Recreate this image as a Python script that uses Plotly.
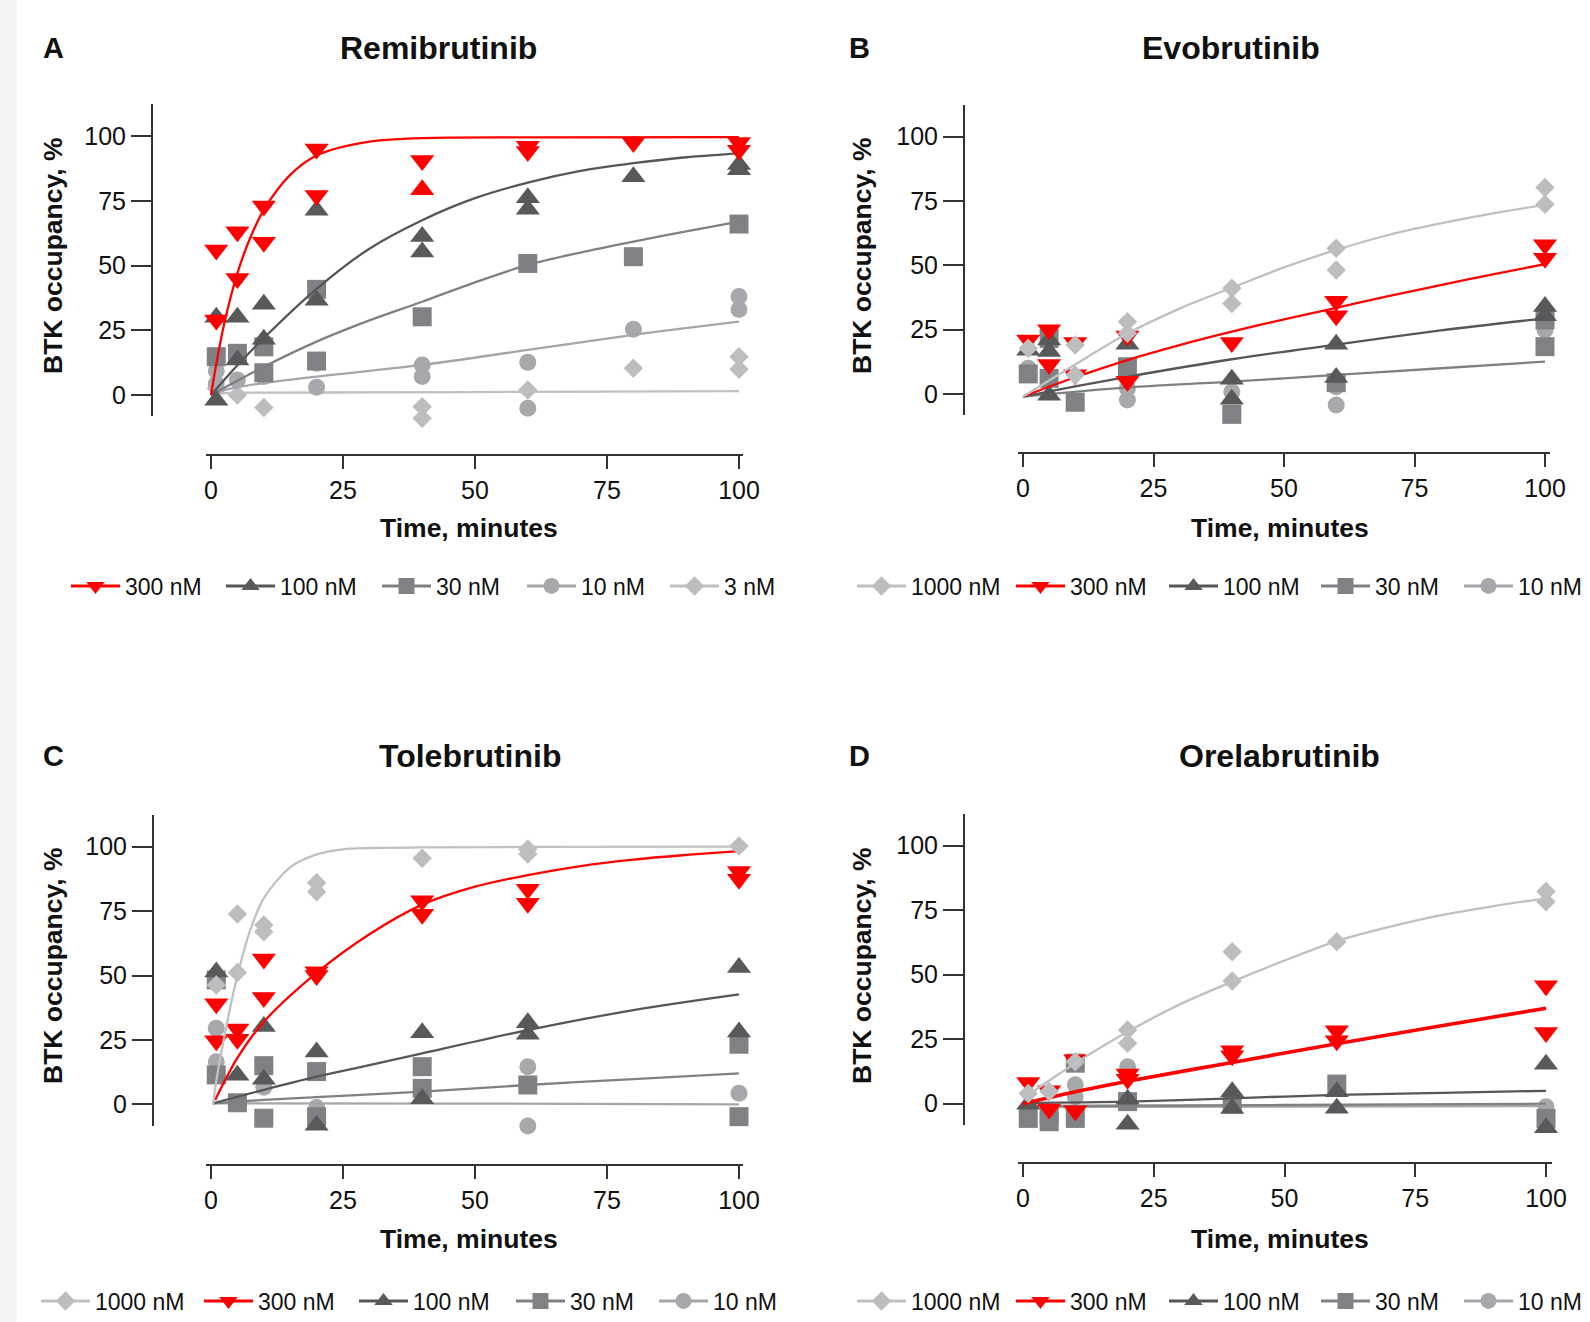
import plotly.graph_objects as go

W, H = 1590, 1322
TICKS = [0, 25, 50, 75, 100]

# ---------------- Panel A: Remibrutinib ----------------
REMI_300_T = [1, 1, 5, 5, 10, 10, 20, 20, 40, 40, 60, 60, 80, 100, 100]
REMI_300_Y = [56, 29, 63, 45, 73, 59, 95, 77, 90.5, 79.2, 96, 94, 97.5, 97.5, 94.5]
REMI_100_T = [1, 1, 5, 5, 10, 10, 20, 20, 40, 40, 60, 60, 80, 100, 100]
REMI_100_Y = [30, -2, 30, 13.5, 35, 21.5, 71.3, 36.6, 61.2, 55.2, 76.2, 71.7, 84.3, 89, 87]
REMI_30_T = [1, 5, 10, 10, 20, 20, 40, 60, 80, 100]
REMI_30_Y = [14.8, 16.1, 18.6, 8.6, 40.8, 13.1, 30.2, 50.8, 53.4, 66]
REMI_10_T = [1, 1, 5, 10, 20, 20, 40, 40, 60, 60, 80, 100, 100]
REMI_10_Y = [9.4, 4.2, 5.8, 7.1, 12.3, 3, 11.6, 7.1, 12.6, -5.1, 25.4, 38, 33]
REMI_3_T = [1, 5, 10, 40, 40, 60, 80, 100, 100]
REMI_3_Y = [2.5, 0, -4.8, -4.5, -9, 1.9, 10.3, 14.8, 9.9]

REMI_300_FIT_T = [0, 1, 2.5, 5, 7.5, 10, 15, 20, 30, 40, 60, 100]
REMI_300_FIT_Y = [0, 12, 27.5, 47, 61, 71.5, 85, 92.5, 97.8, 99.2, 99.5, 99.6]
REMI_100_FIT_T = [0, 5, 10, 20, 30, 40, 50, 60, 70, 80, 90, 100]
REMI_100_FIT_Y = [0, 11.5, 22, 41, 56.5, 67.5, 76, 82, 86.5, 89.5, 91.8, 93.3]
REMI_30_FIT_T = [0, 5, 10, 20, 30, 40, 50, 60, 70, 80, 90, 100]
REMI_30_FIT_Y = [0, 5.5, 10.9, 20.6, 28.8, 36, 43.5, 50.2, 55, 59.2, 63.2, 66.9]
REMI_10_FIT_T = [0, 2.5, 5, 10, 20, 40, 60, 80, 100]
REMI_10_FIT_Y = [0, 1.8, 3, 4.6, 7.1, 11.6, 17.4, 23.2, 28.3]
REMI_3_FIT_T = [0, 2, 5, 10, 30, 60, 100]
REMI_3_FIT_Y = [0, 0.6, 0.9, 0.9, 1.0, 1.2, 1.5]

# ---------------- Panel B: Evobrutinib ----------------
EVO_1000_T = [1, 10, 10, 20, 20, 40, 40, 60, 60, 100, 100]
EVO_1000_Y = [17.8, 19, 7.4, 28.1, 23.6, 41.1, 35.2, 56.6, 48.2, 80.3, 73.7]
EVO_300_T = [1, 5, 5, 10, 10, 20, 20, 40, 60, 60, 100, 100]
EVO_300_Y = [21, 25, 11.5, 20, 7.5, 22.5, 5, 20, 36, 30.4, 58, 52.8]
EVO_100_T = [1, 5, 5, 5, 20, 40, 40, 60, 60, 100, 100]
EVO_100_Y = [17, 21, 16.5, -0.5, 19.3, 5.7, -2, 19.3, 6.4, 34, 30.4]
EVO_30_T = [1, 5, 5, 10, 20, 40, 60, 100, 100]
EVO_30_Y = [7.8, 21.6, 6.1, -3.2, 10.6, -7.9, 4.4, 28.8, 18.4]
EVO_10_T = [1, 20, 20, 40, 60, 60, 100]
EVO_10_Y = [10, 2.2, -2.3, 0.9, 2.8, -4.3, 24.9]

EVO_1000_FIT_T = [0, 10, 20, 30, 40, 50, 60, 70, 80, 90, 100]
EVO_1000_FIT_Y = [-1, 11.5, 23.5, 33.2, 41.3, 49.2, 56, 61.8, 66.3, 70.2, 73.5]
EVO_300_FIT_T = [0, 10, 20, 30, 40, 50, 60, 70, 80, 90, 100]
EVO_300_FIT_Y = [-1, 6.5, 13.2, 19, 24.2, 29, 33.5, 38, 42.3, 46.5, 50.5]
EVO_100_FIT_T = [0, 10, 20, 40, 60, 80, 100]
EVO_100_FIT_Y = [-1, 3, 6.7, 13.5, 19.2, 24.7, 29.4]
EVO_30_FIT_T = [0, 20, 40, 60, 80, 100]
EVO_30_FIT_Y = [-1, 2.6, 4.8, 7.4, 10, 12.6]

# ---------------- Panel C: Tolebrutinib ----------------
TOLE_1000_T = [1, 5, 5, 10, 10, 20, 20, 40, 60, 60, 100]
TOLE_1000_Y = [46.3, 73.9, 51.2, 69.6, 67, 86, 82.5, 95.5, 99, 97.2, 100.3]
TOLE_300_T = [1, 1, 5, 5, 10, 10, 20, 20, 40, 40, 60, 60, 100, 100]
TOLE_300_Y = [39, 24.7, 29.2, 25.3, 56.4, 41.5, 51.5, 50, 79, 73.8, 83.5, 78, 90.4, 87.4]
TOLE_100_T = [1, 5, 10, 10, 20, 20, 40, 40, 60, 60, 100, 100]
TOLE_100_Y = [51.4, 11.3, 30.2, 9.7, 20.3, -8.1, 27.8, 2.2, 31.7, 27.2, 53.1, 28.1]
TOLE_30_T = [1, 1, 5, 10, 10, 20, 20, 40, 40, 60, 100, 100]
TOLE_30_Y = [48.3, 11.4, 0.6, 15, -5.4, 12.7, -4.8, 14.6, 6.2, 7.5, 23.3, -4.8]
TOLE_10_T = [1, 1, 10, 20, 60, 60, 100]
TOLE_10_Y = [29.5, 16.5, 6.6, -1.2, 14.6, -8.4, 4.3]

TOLE_1000_FIT_T = [0.4, 1, 2.5, 5, 7.5, 10, 15, 20, 25, 30, 40, 60, 100]
TOLE_1000_FIT_Y = [0, 9, 26, 50, 68, 80, 92, 97, 99, 99.5, 99.7, 99.9, 100]
TOLE_300_FIT_T = [0.8, 5, 10, 20, 30, 40, 50, 60, 70, 80, 90, 100]
TOLE_300_FIT_Y = [1.7, 18, 32, 51, 66, 77.5, 84.5, 89, 92.5, 95, 96.8, 98.3]
TOLE_100_FIT_T = [0.4, 10, 20, 30, 40, 60, 80, 100]
TOLE_100_FIT_Y = [0.4, 5.6, 10.7, 15.2, 19.8, 28.8, 36.6, 42.7]
TOLE_30_FIT_T = [0.4, 10, 20, 40, 60, 80, 100]
TOLE_30_FIT_Y = [0.4, 1.7, 2.8, 4.9, 7.5, 9.8, 12]
TOLE_10_FIT_T = [0.4, 50, 100]
TOLE_10_FIT_Y = [0.4, 0.3, 0]

# ---------------- Panel D: Orelabrutinib ----------------
ORE_1000_T = [1, 5, 10, 20, 20, 40, 40, 60, 100, 100]
ORE_1000_Y = [4, 4.7, 16.3, 28.6, 23.4, 58.9, 47.6, 62.8, 82.2, 78.3]
ORE_300_T = [1, 5, 5, 10, 10, 20, 20, 40, 40, 60, 60, 100, 100]
ORE_300_Y = [8.2, 5, -2.1, 17, -2.7, 11.5, 9.5, 20.5, 18.6, 28.3, 24.4, 45.7, 27.6]
ORE_100_T = [1, 20, 20, 40, 40, 60, 60, 100, 100]
ORE_100_Y = [-0.2, 1.7, -8, 4.6, -1.9, 4.6, -1.8, 15.3, -9.3]
ORE_30_T = [1, 5, 5, 10, 10, 20, 40, 60, 100]
ORE_30_Y = [-5.7, -4, -7, 15.7, -5.7, 0.8, 0, 7.6, -5.7]
ORE_10_T = [10, 10, 20, 100]
ORE_10_Y = [7.3, 2.7, 14.3, -1.2]

ORE_1000_FIT_T = [0, 10, 20, 30, 40, 50, 60, 70, 80, 90, 100]
ORE_1000_FIT_Y = [2, 15.7, 27.9, 38.5, 47.3, 55.5, 63, 68.5, 73.1, 76.6, 79.6]
ORE_300_FIT_T = [0, 10, 20, 40, 60, 80, 100]
ORE_300_FIT_Y = [0, 4.6, 8.7, 16, 23.2, 30.2, 37]
ORE_100_FIT_T = [0, 20, 40, 60, 80, 100]
ORE_100_FIT_Y = [0.3, 0.8, 2.1, 3.4, 4.2, 5]
ORE_30_FIT_T = [0, 50, 100]
ORE_30_FIT_Y = [-0.9, -0.5, 0]
ORE_10_FIT_T = [0, 50, 100]
ORE_10_FIT_Y = [-1.3, -1.1, -0.9]

# ---------------- styling ----------------
FONT = "Liberation Sans, Arial, Helvetica, sans-serif"
AXC = "#333333"
STY = {
    "300 nM": dict(mc="#ff0000", lc="#ff0000", sym="triangle-down", ms=21),
    "100 nM": dict(mc="#58595b", lc="#555658", sym="triangle-up", ms=21),
    "30 nM": dict(mc="#808184", lc="#7f8083", sym="square", ms=19),
    "10 nM": dict(mc="#a7a8ab", lc="#a5a6a9", sym="circle", ms=17),
    "3 nM": dict(mc="#bcbdbf", lc="#bfc0c2", sym="diamond", ms=15),
    "1000 nM": dict(mc="#bcbdbf", lc="#bfc0c2", sym="diamond", ms=15),
}

panels = [
    dict(title="Remibrutinib", letter="A",
         order=["300 nM", "100 nM", "30 nM", "10 nM", "3 nM"],
         series={
             "300 nM": (REMI_300_T, REMI_300_Y, REMI_300_FIT_T, REMI_300_FIT_Y),
             "100 nM": (REMI_100_T, REMI_100_Y, REMI_100_FIT_T, REMI_100_FIT_Y),
             "30 nM": (REMI_30_T, REMI_30_Y, REMI_30_FIT_T, REMI_30_FIT_Y),
             "10 nM": (REMI_10_T, REMI_10_Y, REMI_10_FIT_T, REMI_10_FIT_Y),
             "3 nM": (REMI_3_T, REMI_3_Y, REMI_3_FIT_T, REMI_3_FIT_Y),
         },
         up_idx={"300 nM": [9]},
         geo=dict(x0=211, sx=5.28, y0=395, sy=2.59, left=152, right=746, top=104,
                  bottom=455, ylb=416, xl=206, xr=743),
         title_xy=(438, 48), letter_xy=(53, 48), xt_xy=(469, 528), yt_xy=(53, 256),
         leg_xy=(71, 586), legw=[91, 92, 81, 79, 56]),
    dict(title="Evobrutinib", letter="B",
         order=["1000 nM", "300 nM", "100 nM", "30 nM", "10 nM"],
         series={
             "1000 nM": (EVO_1000_T, EVO_1000_Y, EVO_1000_FIT_T, EVO_1000_FIT_Y),
             "300 nM": (EVO_300_T, EVO_300_Y, EVO_300_FIT_T, EVO_300_FIT_Y),
             "100 nM": (EVO_100_T, EVO_100_Y, EVO_100_FIT_T, EVO_100_FIT_Y),
             "30 nM": (EVO_30_T, EVO_30_Y, EVO_30_FIT_T, EVO_30_FIT_Y),
             "10 nM": (EVO_10_T, EVO_10_Y, [], []),
         },
         up_idx={},
         geo=dict(x0=1023, sx=5.22, y0=394, sy=2.573, left=964, right=1556, top=105,
                  bottom=453, ylb=415, xl=1018, xr=1550),
         title_xy=(1231, 48), letter_xy=(859, 48), xt_xy=(1280, 528), yt_xy=(862, 256),
         leg_xy=(857, 586), legw=[95, 89, 88, 79, 60]),
    dict(title="Tolebrutinib", letter="C",
         order=["1000 nM", "300 nM", "100 nM", "30 nM", "10 nM"],
         series={
             "1000 nM": (TOLE_1000_T, TOLE_1000_Y, TOLE_1000_FIT_T, TOLE_1000_FIT_Y),
             "300 nM": (TOLE_300_T, TOLE_300_Y, TOLE_300_FIT_T, TOLE_300_FIT_Y),
             "100 nM": (TOLE_100_T, TOLE_100_Y, TOLE_100_FIT_T, TOLE_100_FIT_Y),
             "30 nM": (TOLE_30_T, TOLE_30_Y, TOLE_30_FIT_T, TOLE_30_FIT_Y),
             "10 nM": (TOLE_10_T, TOLE_10_Y, TOLE_10_FIT_T, TOLE_10_FIT_Y),
         },
         up_idx={},
         geo=dict(x0=211, sx=5.28, y0=1104.3, sy=2.576, left=153, right=746, top=815,
                  bottom=1165, ylb=1126, xl=206, xr=743),
         title_xy=(470, 756), letter_xy=(53, 756), xt_xy=(469, 1239), yt_xy=(53, 966),
         leg_xy=(41, 1301), legw=[99, 91, 93, 79, 64]),
    dict(title="Orelabrutinib", letter="D",
         order=["1000 nM", "300 nM", "100 nM", "30 nM", "10 nM"],
         series={
             "1000 nM": (ORE_1000_T, ORE_1000_Y, ORE_1000_FIT_T, ORE_1000_FIT_Y),
             "300 nM": (ORE_300_T, ORE_300_Y, ORE_300_FIT_T, ORE_300_FIT_Y),
             "100 nM": (ORE_100_T, ORE_100_Y, ORE_100_FIT_T, ORE_100_FIT_Y),
             "30 nM": (ORE_30_T, ORE_30_Y, ORE_30_FIT_T, ORE_30_FIT_Y),
             "10 nM": (ORE_10_T, ORE_10_Y, ORE_10_FIT_T, ORE_10_FIT_Y),
         },
         up_idx={},
         geo=dict(x0=1023, sx=5.23, y0=1103.7, sy=2.58, left=964, right=1556, top=814,
                  bottom=1163, ylb=1125, xl=1018, xr=1552),
         title_xy=(1279, 756), letter_xy=(859, 756), xt_xy=(1280, 1239), yt_xy=(862, 966),
         leg_xy=(857, 1301), legw=[95, 89, 88, 79, 60]),
]
RED_WIDTH = {"D": 3.6}

fig = go.Figure()
layout = dict(width=W, height=H, margin=dict(l=0, r=0, t=0, b=0, autoexpand=False),
              paper_bgcolor="white", plot_bgcolor="rgba(0,0,0,0)",
              showlegend=True, font=dict(family=FONT, color="#111"))
shapes = [dict(type="rect", xref="paper", yref="paper", x0=0, x1=17 / W, y0=0, y1=1,
               fillcolor="#f4f4f4", line=dict(width=0), layer="below")]
annotations = []

for i, p in enumerate(panels):
    sfx = "" if i == 0 else str(i + 1)
    xa, ya = "x" + sfx, "y" + sfx
    leg = "legend" if i == 0 else "legend" + str(i + 1)
    g = p["geo"]

    # data + fits (last legend entry drawn first, first on top)
    for lab in reversed(p["order"]):
        pt_t, pt_y, fit_t, fit_y = p["series"][lab]
        st = STY[lab]
        syms = [st["sym"]] * len(pt_t)
        for k in p["up_idx"].get(lab, []):
            syms[k] = "triangle-up"
        fig.add_trace(go.Scatter(
            x=pt_t, y=pt_y, mode="markers", xaxis=xa, yaxis=ya,
            marker=dict(symbol=syms, size=st["ms"], color=st["mc"], line=dict(width=0)),
            showlegend=False, cliponaxis=False, hoverinfo="skip"))
        if fit_t:
            lw = RED_WIDTH.get(p["letter"], 2.3) if lab == "300 nM" else 2.3
            fig.add_trace(go.Scatter(
                x=fit_t, y=fit_y, mode="lines", xaxis=xa, yaxis=ya,
                line=dict(color=st["lc"], width=lw, shape="spline", smoothing=0.9),
                showlegend=False, hoverinfo="skip"))

    # legend entries
    for lab, lwid in zip(p["order"], p["legw"]):
        st = STY[lab]
        fig.add_trace(go.Scatter(
            x=[None], y=[None], mode="lines+markers", name=lab, xaxis=xa, yaxis=ya,
            legend=leg, legendwidth=lwid,
            marker=dict(symbol=st["sym"], size=st["ms"], color=st["mc"], line=dict(width=0)),
            line=dict(color=st["lc"], width=3)))

    layout[leg] = dict(orientation="h", x=(p["leg_xy"][0] - 5) / W, xanchor="left",
                       y=1 - p["leg_xy"][1] / H, yanchor="middle",
                       font=dict(family=FONT, size=23, color="#111"),
                       itemwidth=49, bgcolor="rgba(0,0,0,0)", borderwidth=0,
                       traceorder="normal", itemclick=False, itemdoubleclick=False)

    tickfont = dict(family=FONT, size=25, color="#111")
    layout["xaxis" + sfx] = dict(
        domain=[g["left"] / W, g["right"] / W],
        range=[(g["left"] - g["x0"]) / g["sx"], (g["right"] - g["x0"]) / g["sx"]],
        tickvals=TICKS, ticks="outside", ticklen=13, tickwidth=2, tickcolor=AXC,
        showline=False, showgrid=False, zeroline=False, tickfont=tickfont,
        anchor=ya, fixedrange=True, automargin=False)
    layout["yaxis" + sfx] = dict(
        domain=[1 - g["bottom"] / H, 1 - g["top"] / H],
        range=[(g["y0"] - g["bottom"]) / g["sy"], (g["y0"] - g["top"]) / g["sy"]],
        tickvals=TICKS, ticks="outside", ticklen=20, tickwidth=2, tickcolor=AXC,
        showline=False, showgrid=False, zeroline=False, tickfont=tickfont,
        anchor=xa, fixedrange=True, automargin=False)

    # detached axis lines
    shapes.append(dict(type="line", xref="paper", yref="paper",
                       x0=g["left"] / W, x1=g["left"] / W,
                       y0=1 - g["top"] / H, y1=1 - g["ylb"] / H,
                       line=dict(color=AXC, width=2)))
    shapes.append(dict(type="line", xref="paper", yref="paper",
                       x0=g["xl"] / W, x1=g["xr"] / W,
                       y0=1 - g["bottom"] / H, y1=1 - g["bottom"] / H,
                       line=dict(color=AXC, width=2)))

    annotations += [
        dict(text=p["title"], x=p["title_xy"][0] / W, y=1 - p["title_xy"][1] / H,
             xref="paper", yref="paper", showarrow=False, xanchor="center", yanchor="middle",
             font=dict(family=FONT, size=32, color="#111", weight="bold")),
        dict(text=p["letter"], x=p["letter_xy"][0] / W, y=1 - p["letter_xy"][1] / H,
             xref="paper", yref="paper", showarrow=False, xanchor="center", yanchor="middle",
             font=dict(family=FONT, size=29, color="#111", weight="bold")),
        dict(text="Time, minutes", x=p["xt_xy"][0] / W, y=1 - p["xt_xy"][1] / H,
             xref="paper", yref="paper", showarrow=False, xanchor="center", yanchor="middle",
             font=dict(family=FONT, size=26.5, color="#111", weight="bold")),
        dict(text="BTK occupancy, %", x=p["yt_xy"][0] / W, y=1 - p["yt_xy"][1] / H,
             xref="paper", yref="paper", showarrow=False, xanchor="center", yanchor="middle",
             textangle=-90,
             font=dict(family=FONT, size=26.5, color="#111", weight="bold")),
    ]

layout["shapes"] = shapes
layout["annotations"] = annotations
fig.update_layout(**layout)
fig.write_html("out.html")
